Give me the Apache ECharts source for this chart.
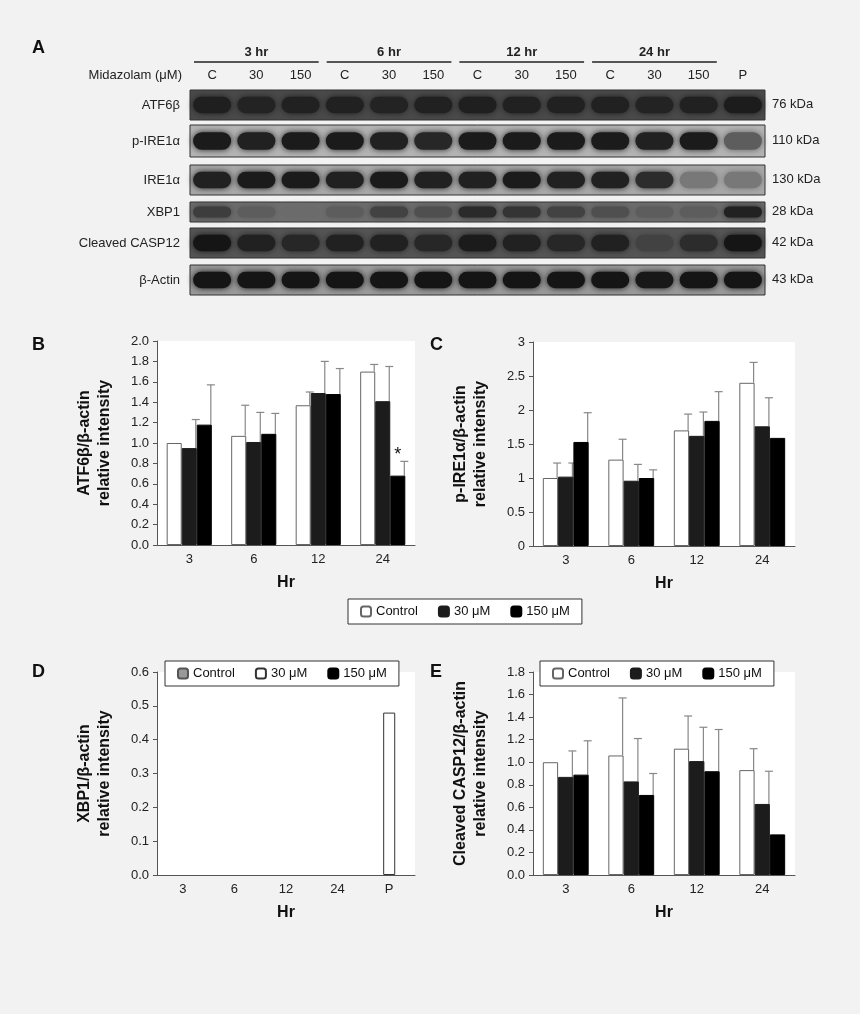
<!DOCTYPE html>
<html><head><meta charset="utf-8">
<script src="https://cdn.jsdelivr.net/npm/echarts@6/dist/echarts.min.js"></script>
<style>html,body{margin:0;background:#f2f2f2}#c{width:860px;height:1014px}</style>
</head><body><div id="c"></div>
<script>
const hours = ['3', '6', '12', '24']
const hoursP = ['3', '6', '12', '24', 'P']
const lanes = ['C', '30', '150', 'C', '30', '150', 'C', '30', '150', 'C', '30', '150', 'P']
const blotRows = ['ATF6β', 'p-IRE1α', 'IRE1α', 'XBP1', 'Cleaved CASP12', 'β-Actin']
const blotKda = ['76 kDa', '110 kDa', '130 kDa', '28 kDa', '42 kDa', '43 kDa']
const blotDensity = [
    [0.82, 0.78, 0.8, 0.8, 0.78, 0.8, 0.82, 0.8, 0.8, 0.8, 0.78, 0.8, 0.84],
    [0.85, 0.8, 0.85, 0.85, 0.8, 0.75, 0.85, 0.85, 0.85, 0.85, 0.8, 0.85, 0.5],
    [0.8, 0.85, 0.85, 0.8, 0.85, 0.8, 0.8, 0.85, 0.8, 0.8, 0.7, 0.4, 0.4],
    [0.62, 0.5, 0.45, 0.5, 0.6, 0.55, 0.72, 0.65, 0.6, 0.55, 0.5, 0.5, 0.8],
    [0.9, 0.8, 0.75, 0.8, 0.8, 0.75, 0.85, 0.8, 0.75, 0.8, 0.6, 0.7, 0.9],
    [0.9, 0.9, 0.9, 0.9, 0.9, 0.9, 0.9, 0.9, 0.9, 0.9, 0.88, 0.9, 0.9]
]
const blotBackground = ['#4a4a4a', '#b4b4b4', '#a8a8a8', '#6e6e6e', '#555555', '#9a9a9a']
const blotTops = [90, 125, 165, 202, 228, 265]
const blotHeights = [30, 32, 30, 20, 30, 30]

// panel B
const atfControl = [1.0, 1.07, 1.37, 1.70]
const atfControlErr = [null, 1.37, 1.50, 1.77]
const atf30 = [0.95, 1.01, 1.49, 1.41]
const atf30Err = [1.23, 1.30, 1.80, 1.75]
const atf150 = [1.18, 1.09, 1.48, 0.68]
const atf150Err = [1.57, 1.29, 1.73, 0.82]
// panel C
const pireControl = [1.0, 1.27, 1.70, 2.40]
const pireControlErr = [1.22, 1.57, 1.94, 2.70]
const pire30 = [1.02, 0.96, 1.62, 1.76]
const pire30Err = [1.22, 1.20, 1.97, 2.18]
const pire150 = [1.53, 1.0, 1.84, 1.59]
const pire150Err = [1.96, 1.12, 2.27, null]
// panel D
const xbpControl = ['-', '-', '-', '-', '-']
const xbp30 = ['-', '-', '-', '-', 0.48]
const xbp150 = ['-', '-', '-', '-', '-']
// panel E
const caspControl = [1.0, 1.06, 1.12, 0.93]
const caspControlErr = [null, 1.57, 1.41, 1.12]
const casp30 = [0.87, 0.83, 1.01, 0.63]
const casp30Err = [1.10, 1.21, 1.31, 0.92]
const casp150 = [0.89, 0.71, 0.92, 0.36]
const casp150Err = [1.19, 0.90, 1.29, null]

const FONT = 'Liberation Sans'
const chart = echarts.init(document.getElementById('c'))
const grid = [], xAxis = [], yAxis = [], series = [], graphic = [], legend = []

// blot
blotRows.forEach((name, r) => {
    grid.push({ left: 190, width: 575, top: blotTops[r], height: blotHeights[r], show: true,
        backgroundColor: blotBackground[r], borderColor: '#333', borderWidth: 1 })
    xAxis.push({ gridIndex: r, type: 'category', data: lanes, show: false })
    yAxis.push({ gridIndex: r, type: 'category', data: [name], axisLine: { show: false }, axisTick: { show: false },
        axisLabel: { color: '#222', fontFamily: FONT, fontSize: 13, margin: 10 } })
    series.push({ type: 'custom', xAxisIndex: r, yAxisIndex: r, data: blotDensity[r].map((v, i) => [i, 0, v]),
        renderItem: (params, api) => {
            const c = api.coord([api.value(0), 0])
            const w = api.size([1, 1])
            const bw = w[0] * 0.86, bh = w[1] * 0.55
            return { type: 'rect', shape: { x: c[0] - bw / 2, y: c[1] - bh / 2, width: bw, height: bh, r: bh / 2 },
                style: { fill: api.visual('color'), shadowBlur: 6, shadowColor: api.visual('color') } }
        } })
    graphic.push({ type: 'text', left: 772, top: blotTops[r] + blotHeights[r] / 2 - 7,
        style: { text: blotKda[r], font: `13px "${FONT}"`, fill: '#222' } })
})
lanes.forEach((l, i) => {
    graphic.push({ type: 'text', x: 190 + 575 / 13 * (i + 0.5), y: 75,
        style: { text: l, font: `13px "${FONT}"`, fill: '#222', align: 'center', verticalAlign: 'middle' } })
})
graphic.push({ type: 'text', x: 182, y: 75, style: { text: 'Midazolam (μM)', font: `13px "${FONT}"`, fill: '#222', align: 'right', verticalAlign: 'middle' } })
;['3 hr', '6 hr', '12 hr', '24 hr'].forEach((t, g) => {
    const x0 = 190 + 575 / 13 * (g * 3) + 4, x1 = 190 + 575 / 13 * (g * 3 + 3) - 4
    graphic.push({ type: 'text', x: (x0 + x1) / 2, y: 52, style: { text: t, font: `bold 13px "${FONT}"`, fill: '#222', align: 'center', verticalAlign: 'middle' } })
    graphic.push({ type: 'line', shape: { x1: x0, y1: 62, x2: x1, y2: 62 }, style: { stroke: '#222', lineWidth: 1.5 } })
})
;[['A', 32, 48], ['B', 32, 345], ['C', 430, 345], ['D', 32, 672], ['E', 430, 672]].forEach(([t, x, y]) => {
    graphic.push({ type: 'text', x, y, style: { text: t, font: `bold 18px "${FONT}"`, fill: '#111', verticalAlign: 'middle' } })
})

const colors = ['#ffffff', '#1c1c1c', '#000000']
const borders = ['#666', '#1c1c1c', '#000']
const names = ['Control', '30 μM', '150 μM']

function errSeries(gi, k, err, vals) {
    return {
        type: 'custom', xAxisIndex: gi, yAxisIndex: gi, silent: true, z: 1,
        data: err.map((e, i) => [i, vals[i], e]).filter(d => d[2] != null),
        renderItem: (params, api) => {
            const cw = api.size([1, 0])[0]
            const bw = cw * 0.7 / 3
            const x = api.coord([api.value(0), 0])[0] + (k - 1) * bw + bw / 2 - 1
            const yb = api.coord([0, api.value(1)])[1]
            const yt = api.coord([0, api.value(2)])[1]
            return { type: 'group', children: [
                { type: 'line', shape: { x1: x, y1: yb, x2: x, y2: yt }, style: { stroke: '#888', lineWidth: 1.2 } },
                { type: 'line', shape: { x1: x - 4, y1: yt, x2: x + 4, y2: yt }, style: { stroke: '#888', lineWidth: 1.2 } }
            ] }
        }
    }
}

function panel(rect, cats, max, interval, fmt, ytitle, sets, errs) {
    const gi = grid.length
    grid.push(Object.assign({ show: true, backgroundColor: '#fff', borderWidth: 0 }, rect))
    xAxis.push({ gridIndex: gi, type: 'category', data: cats, name: 'Hr', nameLocation: 'middle', nameGap: 30,
        nameTextStyle: { fontFamily: FONT, fontWeight: 'bold', fontSize: 16, color: '#111' },
        axisLine: { lineStyle: { color: '#555' } }, axisTick: { lineStyle: { color: '#555' }, length: 4 },
        axisLabel: { fontFamily: FONT, fontSize: 13, color: '#222' } })
    yAxis.push({ gridIndex: gi, type: 'value', min: 0, max, interval, name: ytitle, nameLocation: 'middle', nameGap: 42,
        nameTextStyle: { fontFamily: FONT, fontWeight: 'bold', fontSize: 16, color: '#111', lineHeight: 20 },
        axisLine: { show: true, lineStyle: { color: '#555' } }, axisTick: { show: true, length: 4, lineStyle: { color: '#555' } },
        splitLine: { show: false },
        axisLabel: { fontFamily: FONT, fontSize: 13, color: '#222', formatter: v => fmt ? v.toFixed(1) : String(v) } })
    const ids = []
    sets.forEach((vals, k) => {
        const id = 'p' + gi + '_' + k
        ids.push(id)
        series.push({ type: 'bar', id, name: names[k], xAxisIndex: gi, yAxisIndex: gi, data: vals, z: 2,
            barGap: '0%', barCategoryGap: '30%', itemStyle: { color: colors[k], borderColor: borders[k], borderWidth: 1 } })
        if (errs && errs[k]) series.push(errSeries(gi, k, errs[k], vals))
    })
    return ids
}

panel({ left: 157, top: 341, width: 258, height: 204 }, hours, 2, 0.2, true, 'ATF6β/β-actin\nrelative intensity',
    [atfControl, atf30, atf150], [atfControlErr, atf30Err, atf150Err])
series[series.length - 2].data = atf150.map((v, i) => i === 3
    ? { value: v, label: { show: true, formatter: '*', position: 'top', distance: 12, fontSize: 18, color: '#111', fontFamily: FONT } }
    : v)
panel({ left: 533, top: 342, width: 262, height: 204 }, hours, 3, 0.5, false, 'p-IRE1α/β-actin\nrelative intensity',
    [pireControl, pire30, pire150], [pireControlErr, pire30Err, pire150Err])
const dIds = panel({ left: 157, top: 672, width: 258, height: 203 }, hoursP, 0.6, 0.1, true, 'XBP1/β-actin\nrelative intensity',
    [xbpControl, xbp30, xbp150], null)
panel({ left: 533, top: 672, width: 262, height: 203 }, hours, 1.8, 0.2, true, 'Cleaved CASP12/β-actin\nrelative intensity',
    [caspControl, casp30, casp150], [caspControlErr, casp30Err, casp150Err])

series.forEach(s => {
    if (s.id === dIds[0]) s.itemStyle = { color: '#999', borderColor: '#555', borderWidth: 1 }
    if (s.id === dIds[1]) s.itemStyle = { color: '#fff', borderColor: '#333', borderWidth: 1 }
})

const legBase = { orient: 'horizontal', itemWidth: 10, itemHeight: 10, itemGap: 20, borderColor: '#333', borderWidth: 1,
    backgroundColor: '#fff', padding: [6, 12], selectedMode: false, textStyle: { fontFamily: FONT, fontSize: 13, color: '#111' } }
legend.push(Object.assign({}, legBase, { left: 348, top: 599, data: names }))
legend.push(Object.assign({}, legBase, { left: 165, top: 661,
    data: names.map((n, k) => ({ name: n, itemStyle: k === 0 ? { color: '#999', borderColor: '#555' } : k === 1 ? { color: '#fff', borderColor: '#333' } : undefined })) }))
legend.push(Object.assign({}, legBase, { left: 540, top: 661, data: names }))

chart.setOption({
    animation: false,
    textStyle: { fontFamily: FONT },
    visualMap: { show: false, min: 0, max: 1, dimension: 2, seriesIndex: [0, 1, 2, 3, 4, 5],
        inRange: { color: ['#d0d0d0', '#8a8a8a', '#303030', '#0a0a0a'] } },
    grid, xAxis, yAxis, series, legend, graphic
})
</script></body></html>
